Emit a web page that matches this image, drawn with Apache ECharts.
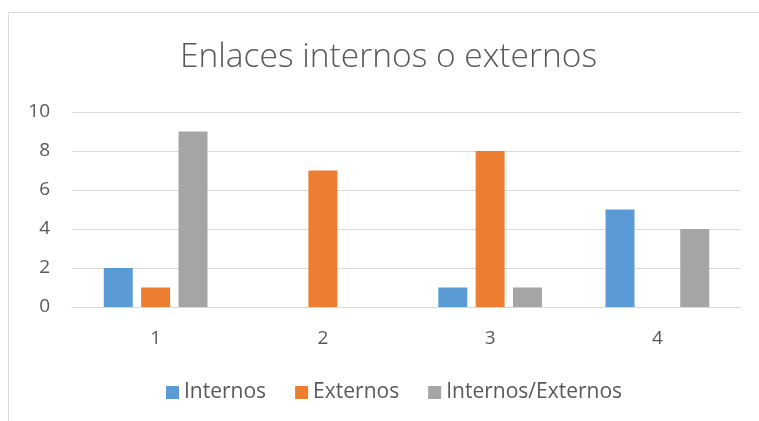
<!DOCTYPE html>
<html><head><meta charset="utf-8">
<script src="https://cdn.jsdelivr.net/npm/echarts@6/dist/echarts.min.js"></script>
<style>html,body{margin:0;padding:0;background:#fff}#c{width:759px;height:421px;position:relative}
#frame{position:absolute;left:8px;top:12px;width:800px;height:500px;border:1px solid #d9d9d9;box-sizing:border-box;pointer-events:none}</style>
</head><body><div id="c"></div><div id="frame"></div>
<script>
const categories = ['1', '2', '3', '4'];
const internos = [2, 0, 1, 5];
const externos = [1, 7, 8, 0];
const internosExternos = [9, 0, 1, 4];
const seriesNames = ['Internos', 'Externos', 'Internos/Externos'];
const titleText = 'Enlaces internos o externos';

const chart = echarts.init(document.getElementById('c'));
const font = 'Open Sans';
chart.setOption({
  animation: false,
  color: ['#5B9BD5', '#ED7D31', '#A5A5A5'],
  title: { text: titleText, left: 175, top: 35, textStyle: { fontFamily: font, fontWeight: 300, fontSize: 33.5, color: '#595959' } },
  grid: { left: 72, right: 18, top: 112, bottom: 114 },
  legend: { bottom: 13, left: 161, itemWidth: 13, itemHeight: 13, itemGap: 29, icon: 'rect',
    textStyle: { fontFamily: font, fontSize: 21, color: '#595959' },
    data: seriesNames },
  xAxis: { type: 'category', data: categories, axisTick: { show: false },
    axisLine: { lineStyle: { color: '#d9d9d9', width: 1 } },
    axisLabel: { fontFamily: font, fontSize: 19, color: '#595959', margin: 22 } },
  yAxis: { type: 'value', min: 0, max: 10, interval: 2,
    axisLine: { show: false }, axisTick: { show: false },
    splitLine: { lineStyle: { color: '#d9d9d9', width: 1 } },
    axisLabel: { fontFamily: font, fontSize: 19, color: '#595959', margin: 22 } },
  series: [
    { name: seriesNames[0], type: 'bar', data: internos, barGap: '29%', barCategoryGap: '38%' },
    { name: seriesNames[1], type: 'bar', data: externos, barGap: '29%', barCategoryGap: '38%' },
    { name: seriesNames[2], type: 'bar', data: internosExternos, barGap: '29%', barCategoryGap: '38%' }
  ]
});
</script></body></html>
